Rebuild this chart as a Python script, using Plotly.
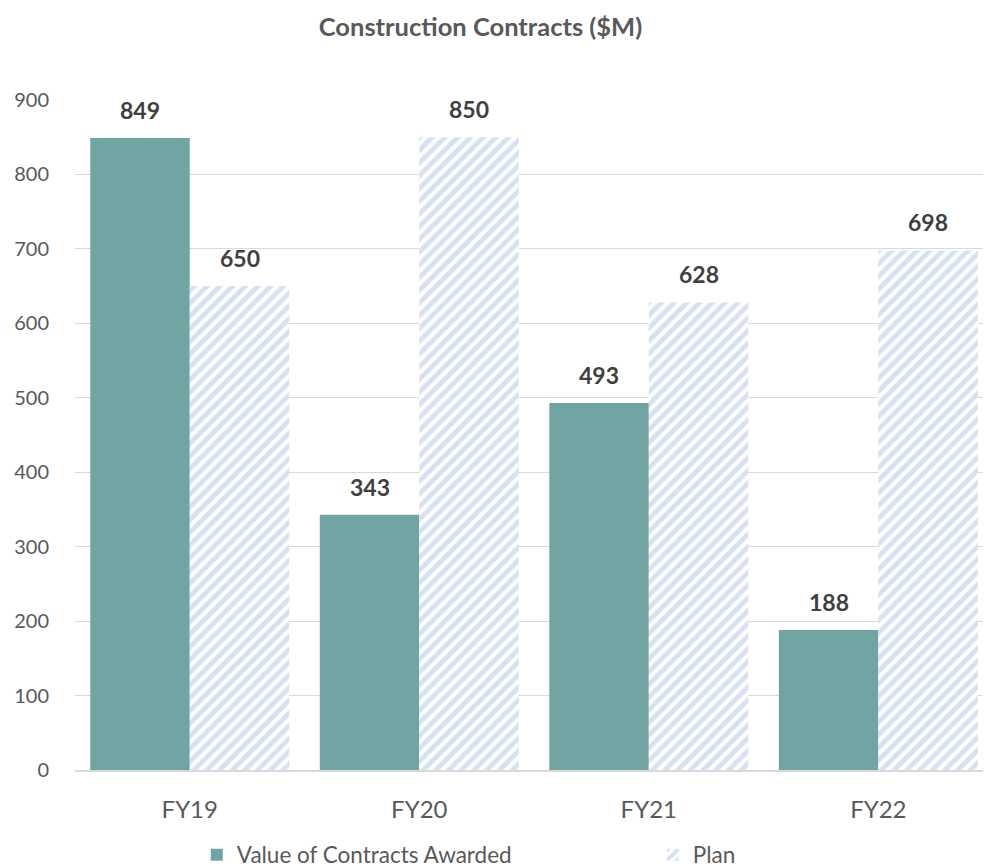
import plotly.graph_objects as go

categories = ["FY19", "FY20", "FY21", "FY22"]
awarded = [849, 343, 493, 188]
plan = [650, 850, 628, 698]

font_family = "Lato, 'Open Sans', sans-serif"

W, H = 984, 867
ML, MR, MT, MB = 75, 1, 100, 97
BARGAP = 0.133
X_RANGE = [-0.5, 3.456]  # chart area is cropped slightly at the right edge

fig = go.Figure()
fig.add_trace(go.Bar(
    x=categories, y=awarded, name="Value of Contracts Awarded",
    marker=dict(color="#70a5a3", line=dict(width=0)),
))
fig.add_trace(go.Bar(
    x=categories, y=plan, name="Plan",
    marker=dict(color="white", line=dict(width=0),
                pattern=dict(shape="/", fgcolor="#aec3e8", bgcolor="white", size=9, solidity=0.55)),
))

# data labels placed above bars (offset by half the bar width)
cat_px = (W - ML - MR) / (X_RANGE[1] - X_RANGE[0])
half_bar = cat_px * (1 - BARGAP) / 4
for series, sign in ((awarded, -1), (plan, 1)):
    for c, v in zip(categories, series):
        fig.add_annotation(x=c, y=v, xref="x", yref="y", text=f"<b>{v}</b>",
                           showarrow=False, xshift=sign * half_bar, yshift=12,
                           yanchor="bottom",
                           font=dict(size=23, color="#404040", family=font_family))

fig.update_layout(
    width=W, height=H,
    paper_bgcolor="white", plot_bgcolor="white",
    margin=dict(l=ML, r=MR, t=MT, b=MB, autoexpand=False),
    barmode="group", bargap=BARGAP, bargroupgap=0,
    title=dict(text="<b>Construction Contracts ($M)</b>", xref="container", x=480.5 / W,
               xanchor="center", y=1 - 27/H, yanchor="middle",
               font=dict(size=25.5, color="#595959", family=font_family)),
    font=dict(family=font_family, color="#595959", size=20),
    showlegend=True,
    legend=dict(orientation="h", xref="container", x=0.2, xanchor="left",
                yref="container", y=1 - 855/H, yanchor="middle",
                font=dict(size=22.5, color="#595959"), entrywidth=411, entrywidthmode="pixels",
                traceorder="normal", itemwidth=30),
)
fig.update_yaxes(range=[0, 900], dtick=100, showgrid=True, gridcolor="#d9d9d9", gridwidth=1,
                 zeroline=False, showline=False, ticks="", ticklabelstandoff=25,
                 tickfont=dict(size=20, color="#595959"))
fig.update_xaxes(range=X_RANGE, showline=True, linecolor="#d9d9d9", linewidth=2, ticks="",
                 ticklabelstandoff=17,
                 tickfont=dict(size=24, color="#595959"))

fig.write_html("out.html",
               post_script="document.documentElement.style.overflow='hidden';document.body.style.margin='0';")
